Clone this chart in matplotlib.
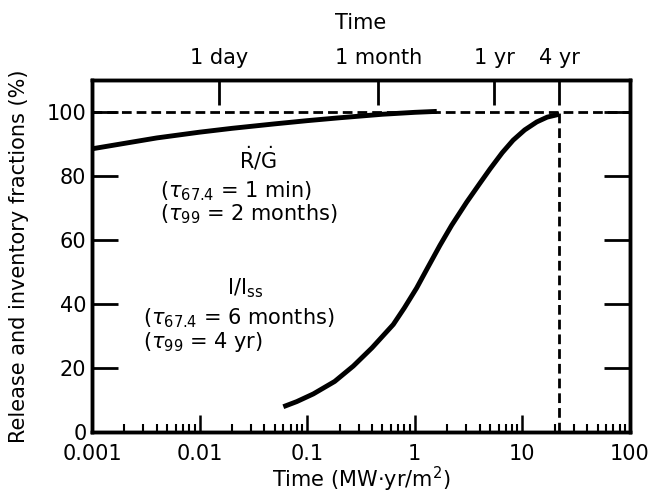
import numpy as np
import matplotlib
matplotlib.use("Agg")
import matplotlib.pyplot as plt
from matplotlib.ticker import LogLocator, NullFormatter, FixedLocator, NullLocator

plt.rcParams["font.family"] = ["DejaVu Sans"]
plt.rcParams["mathtext.fontset"] = "dejavusans"

# release fraction R/G vs fluence (MW-yr/m^2)
rg_x = [0.001, 0.002, 0.004, 0.01, 0.02, 0.05, 0.1, 0.2, 0.5, 1.0, 1.6]
rg_y = [88.5, 90.2, 91.9, 93.7, 94.9, 96.3, 97.3, 98.2, 99.3, 99.9, 100.2]

# inventory fraction I/Iss
inv_x = [0.060, 0.080, 0.114, 0.18, 0.268, 0.40, 0.631, 0.80, 1.04, 1.30,
         1.71, 2.2, 3.03, 4.0, 5.0, 6.5, 8.2, 10.5, 13.6, 17.0, 22.0]
inv_y = [7.9, 9.5, 11.9, 15.8, 20.6, 26.3, 33.6, 38.8, 45.0, 51.0,
         58.3, 64.6, 71.8, 77.6, 82.2, 87.3, 91.2, 94.4, 96.9, 98.4, 99.3]

# top axis: time at ~5.5 MW/m^2 wall load
wall_load = 5.5
time_labels = ["1 day", "1 month", "1 yr", "4 yr"]
time_years = [1 / 365, 1 / 12, 1, 4]

fig = plt.figure(figsize=(6.53, 4.97), dpi=100)
ax = fig.add_axes([0.1409, 0.1308, 0.8239, 0.7082])

ax.plot(rg_x, rg_y, color="black", lw=3.5, solid_capstyle="butt")
ax.plot(inv_x, inv_y, color="black", lw=3.5, solid_capstyle="butt",
        solid_joinstyle="round")

ax.axhline(100, color="black", lw=2, dashes=(3.5, 1.8))
t4 = wall_load * 4
ax.plot([t4, t4], [0, 100], color="black", lw=2, dashes=(3.5, 1.8))

ax.set_xscale("log")
ax.set_xlim(0.001, 100)
ax.set_ylim(0, 110)
ax.set_xticks([0.001, 0.01, 0.1, 1, 10, 100])
ax.set_xticklabels(["0.001", "0.01", "0.1", "1", "10", "100"])
ax.xaxis.set_minor_locator(LogLocator(base=10, subs=np.arange(2, 10)))
ax.xaxis.set_minor_formatter(NullFormatter())
ax.set_yticks([0, 20, 40, 60, 80, 100])

ax.tick_params(axis="x", which="major", direction="in", length=12, width=1.8,
               labelsize=15, pad=9)
ax.tick_params(axis="x", which="minor", direction="in", length=6, width=1.5)
ax.tick_params(axis="y", which="major", direction="in", length=19, width=2,
               labelsize=15, right=True, pad=4)

for s in ax.spines.values():
    s.set_linewidth(2.5)

ax.set_xlabel("Time (MW$\\cdot$yr/m$^2$)", fontsize=15, labelpad=0)
ax.set_ylabel("Release and inventory fractions (%)", fontsize=15, labelpad=13)

top = ax.twiny()
top.set_xscale("log")
top.set_xlim(ax.get_xlim())
top.xaxis.set_major_locator(FixedLocator([wall_load * t for t in time_years]))
top.xaxis.set_minor_locator(NullLocator())
top.set_xticklabels(time_labels)
top.tick_params(axis="x", direction="in", length=18, width=2, labelsize=15, pad=9)
top.set_xlabel("Time", fontsize=15, labelpad=13)
for s in top.spines.values():
    s.set_linewidth(2.5)

ax.text(0.035, 85.4, r"$\dot{\mathrm{R}}/\dot{\mathrm{G}}$", fontsize=15,
        ha="center", va="center")
ax.text(0.0043, 75.2, r"($\tau_{67.4}$ = 1 min)", fontsize=15, va="center")
ax.text(0.0043, 68.0, r"($\tau_{99}$ = 2 months)", fontsize=15, va="center")
ax.text(0.018, 45.0, r"I/I$_{\mathrm{ss}}$", fontsize=15, va="center")
ax.text(0.003, 35.7, r"($\tau_{67.4}$ = 6 months)", fontsize=15, va="center")
ax.text(0.003, 28.0, r"($\tau_{99}$ = 4 yr)", fontsize=15, va="center")

fig.savefig("out.png", dpi=100)
